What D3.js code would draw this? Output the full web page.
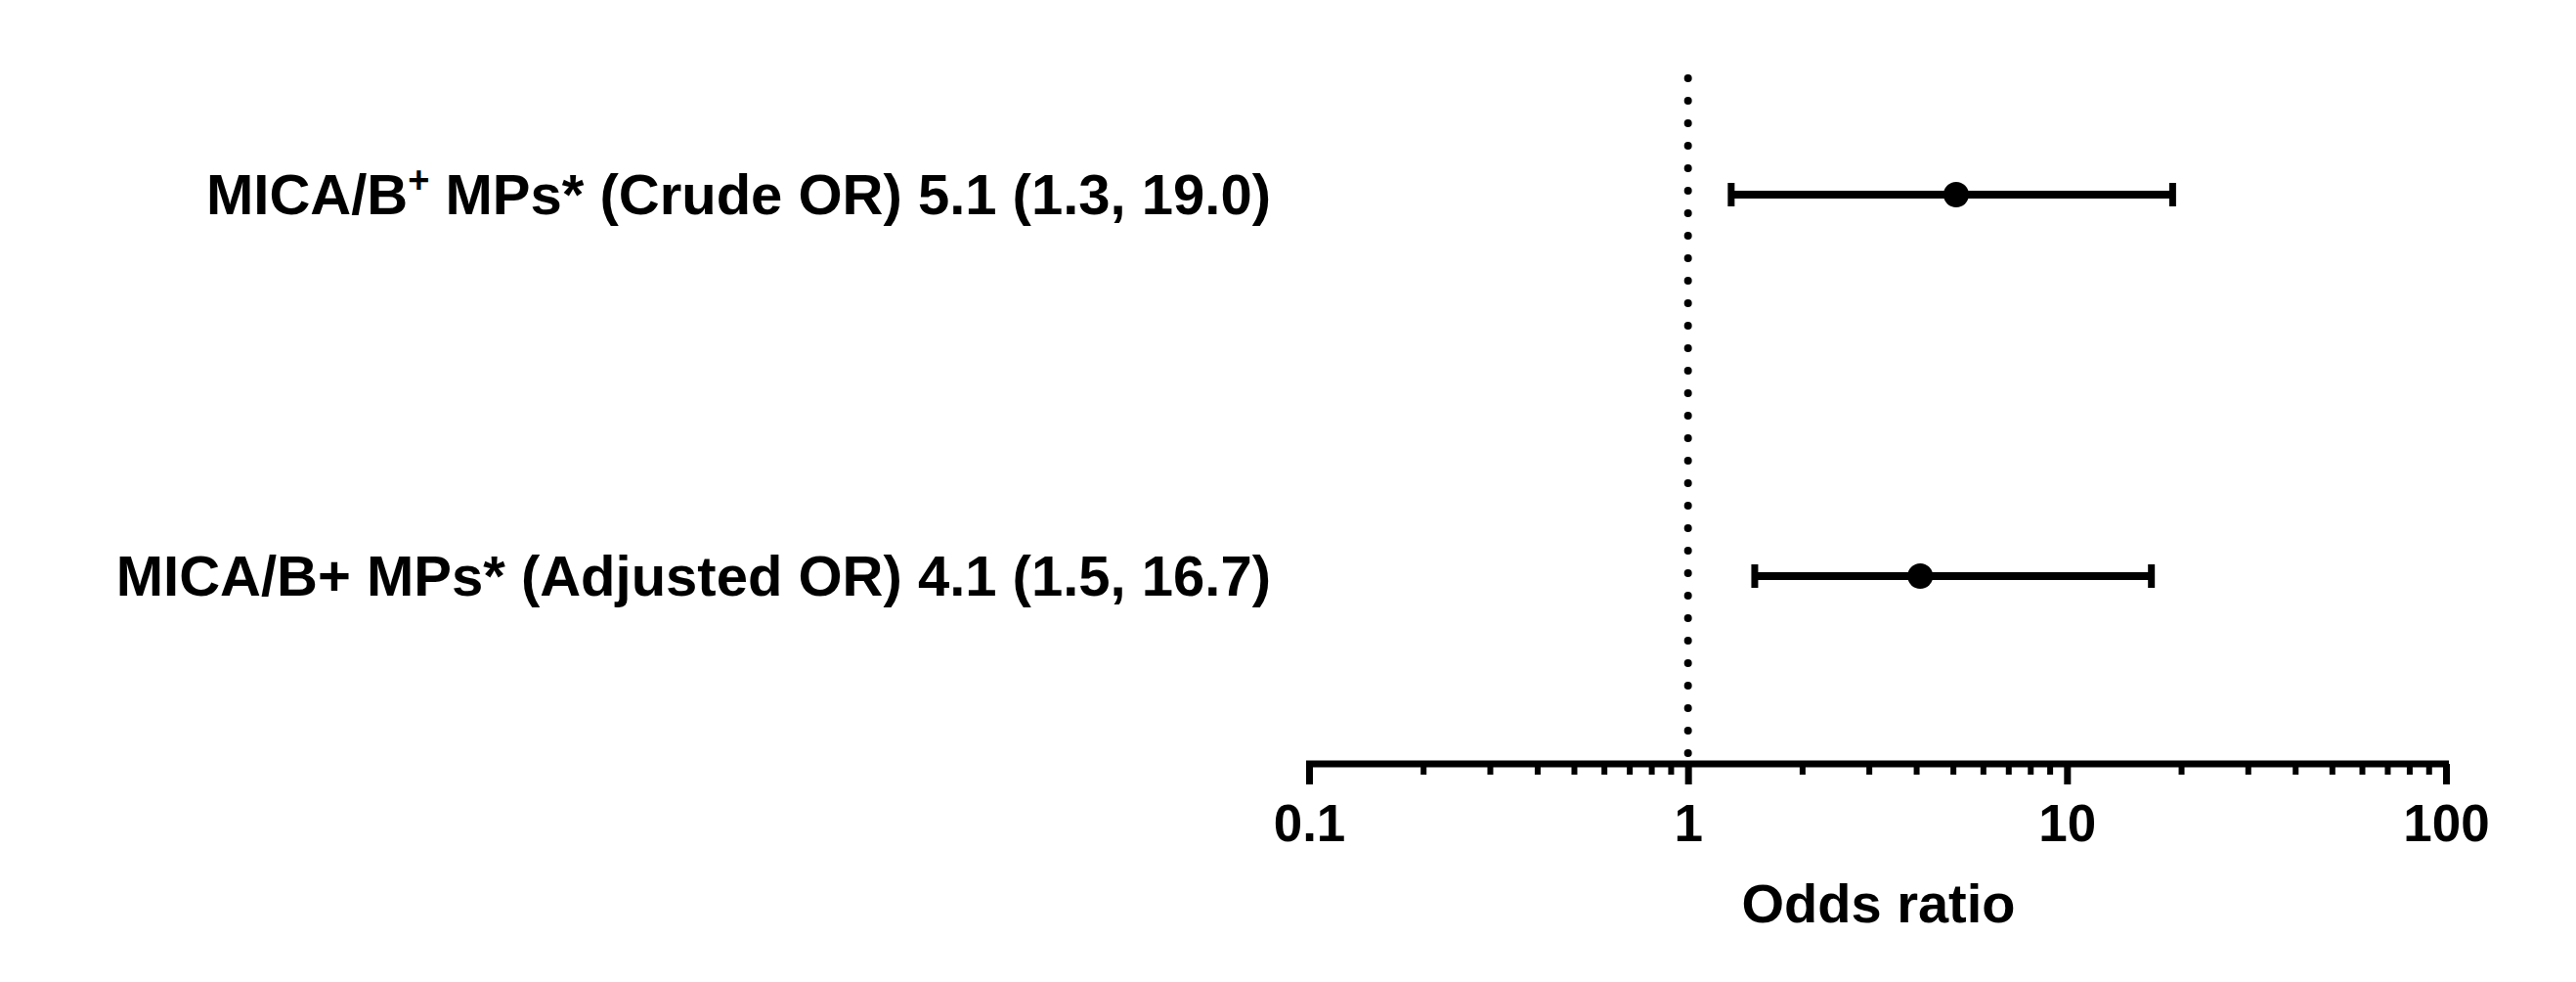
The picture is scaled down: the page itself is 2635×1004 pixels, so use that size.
<!DOCTYPE html>
<html>
<head>
<meta charset="utf-8">
<script src="https://cdn.jsdelivr.net/npm/d3@7"></script>
<style>
  body { margin: 0; background: #fff; }
  text { font-family: "Liberation Sans", Arial, sans-serif; font-weight: bold; fill: #000; }
</style>
</head>
<body>
<div id="vis"></div>
<script>
// forest plot values
var rowLabels = ["MICA/B", "MICA/B+ MPs* (Adjusted OR) 4.1 (1.5, 16.7)"];
var rowSup = ["+", ""];
var rowTail = [" MPs* (Crude OR) 5.1 (1.3, 19.0)", ""];
var oddsRatio = [5.1, 4.1];
var ciLow = [1.3, 1.5];
var ciHigh = [19.0, 16.7];
var majorTicks = [0.1, 1, 10, 100];
var tickLabels = ["0.1", "1", "10", "100"];
var minorTicks = [0.2, 0.3, 0.4, 0.5, 0.6, 0.7, 0.8, 0.9, 2, 3, 4, 5, 6, 7, 8, 9, 20, 30, 40, 50, 60, 70, 80, 90];

var width = 2635, height = 1004;
var axisY = 781;

var svg = d3.select("#vis").append("svg")
    .attr("width", width)
    .attr("height", height);

var x = d3.scaleLog()
    .domain([0.1, 100])
    .range([1339, 2502]);

var y = d3.scalePoint()
    .domain(d3.range(rowLabels.length))
    .range([199, 589]);

// reference line at OR = 1
svg.append("line")
    .attr("x1", x(1)).attr("x2", x(1))
    .attr("y1", 80).attr("y2", axisY - 4)
    .attr("stroke", "#000")
    .attr("stroke-width", 8)
    .attr("stroke-linecap", "round")
    .attr("stroke-dasharray", "0,23");

// minor ticks
var minorAxis = d3.axisBottom(x)
    .tickValues(minorTicks)
    .tickSize(11)
    .tickSizeOuter(0)
    .tickFormat("");

var gMinor = svg.append("g")
    .attr("transform", "translate(0," + axisY + ")")
    .call(minorAxis);
gMinor.select(".domain").remove();
gMinor.selectAll(".tick line").attr("stroke-width", 6);

// major axis
var xAxis = d3.axisBottom(x)
    .tickValues(majorTicks)
    .tickSize(21)
    .tickSizeOuter(0)
    .tickFormat(function(d, i) { return tickLabels[i]; });

var gX = svg.append("g")
    .attr("class", "x-axis")
    .attr("transform", "translate(0," + axisY + ")")
    .call(xAxis);

gX.select(".domain")
    .attr("stroke-width", 7)
    .attr("d", "M" + (x.range()[0] - 3) + ",0H" + (x.range()[1] + 3));
gX.selectAll(".tick line").attr("stroke-width", 7);
gX.selectAll(".tick text")
    .attr("y", 79)
    .attr("dy", 0)
    .style("font-family", "'Liberation Sans', Arial, sans-serif")
    .style("font-weight", "bold")
    .style("font-size", "53px");

svg.append("text")
    .attr("x", (x.range()[0] + x.range()[1]) / 2 + 1)
    .attr("y", 943)
    .attr("text-anchor", "middle")
    .style("font-size", "56px")
    .text("Odds ratio");

// rows
var rows = svg.append("g").selectAll(".row")
    .data(oddsRatio)
    .enter().append("g")
    .attr("class", "row");

rows.append("line")
    .attr("x1", function(d, i) { return x(ciLow[i]); })
    .attr("x2", function(d, i) { return x(ciHigh[i]); })
    .attr("y1", function(d, i) { return y(i); })
    .attr("y2", function(d, i) { return y(i); })
    .attr("stroke", "#000")
    .attr("stroke-width", 8);

// whisker caps
[ciLow, ciHigh].forEach(function(arr) {
  rows.append("line")
      .attr("x1", function(d, i) { return x(arr[i]); })
      .attr("x2", function(d, i) { return x(arr[i]); })
      .attr("y1", function(d, i) { return y(i) - 12; })
      .attr("y2", function(d, i) { return y(i) + 12; })
      .attr("stroke", "#000")
      .attr("stroke-width", 7);
});

rows.append("circle")
    .attr("cx", function(d) { return x(d); })
    .attr("cy", function(d, i) { return y(i); })
    .attr("r", 13)
    .attr("fill", "#000");

var labels = rows.append("text")
    .attr("x", 1300)
    .attr("y", function(d, i) { return y(i) + 20; })
    .attr("text-anchor", "end")
    .style("font-size", "58px");

labels.append("tspan").text(function(d, i) { return rowLabels[i]; });
labels.append("tspan")
    .attr("dy", function(d, i) { return rowSup[i] ? -22 : 0; })
    .style("font-size", "38px")
    .text(function(d, i) { return rowSup[i]; });
labels.append("tspan")
    .attr("dy", function(d, i) { return rowSup[i] ? 22 : 0; })
    .text(function(d, i) { return rowTail[i]; });
</script>
</body>
</html>
